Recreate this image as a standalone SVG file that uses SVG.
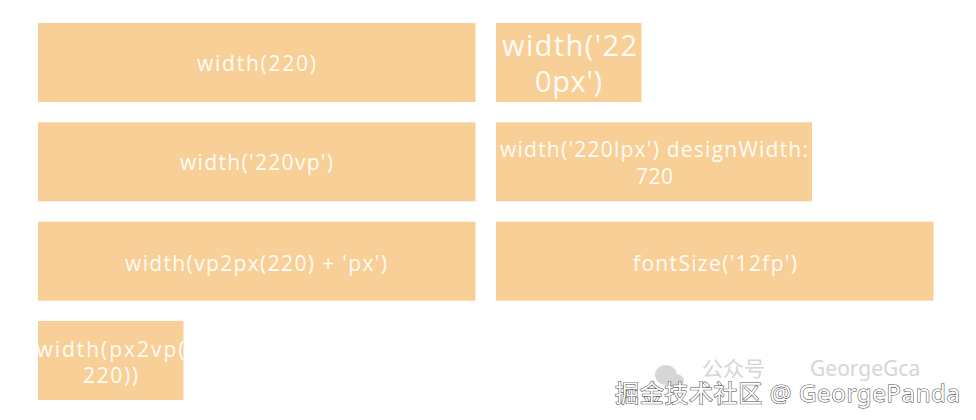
<svg xmlns="http://www.w3.org/2000/svg" width="976" height="420" viewBox="0 0 976 420">
  <defs>
    <style>
      .box { fill: #F9CF98; }
      .lbl { fill: #FFFCF6; font-family: "Open Sans", "Noto Sans", sans-serif; font-size: 21px; text-anchor: middle; }
      .big { font-size: 29px; }
      .wm { fill: #FFFFFF; stroke: #4a4a4a; stroke-width: 1.1px; paint-order: stroke; font-family: "Noto Sans", "Noto Sans CJK SC", sans-serif; font-size: 24px; }
      .wmf { fill: #D6D6D6; font-family: "Noto Sans", "Noto Sans CJK SC", sans-serif; font-size: 21px; }
    </style>
  </defs>
  <rect width="976" height="420" fill="#FFFFFF"/>

  <g id="node-width-220">
    <rect class="box" x="38" y="23" width="437.5" height="79"/>
    <text class="lbl" x="256.5" y="71" textLength="119" lengthAdjust="spacing">width(220)</text>
  </g>
  <g id="node-width-220px">
    <rect class="box" x="496" y="23" width="145.5" height="79"/>
    <text class="lbl big" x="569.5" y="56" textLength="135" lengthAdjust="spacing">width('22</text>
    <text class="lbl big" x="568.5" y="91.5" textLength="67" lengthAdjust="spacing">0px')</text>
  </g>
  <g id="node-width-220vp">
    <rect class="box" x="38" y="122.3" width="437.5" height="79"/>
    <text class="lbl" x="256.5" y="170" textLength="153" lengthAdjust="spacing">width('220vp')</text>
  </g>
  <g id="node-width-220lpx">
    <rect class="box" x="496" y="122.3" width="316" height="79"/>
    <text class="lbl" x="654" y="156.5" textLength="308" lengthAdjust="spacing">width('220lpx') designWidth:</text>
    <text class="lbl" x="654.5" y="183.5" textLength="37" lengthAdjust="spacing">720</text>
  </g>
  <g id="node-vp2px">
    <rect class="box" x="38" y="221.7" width="437.5" height="79"/>
    <text class="lbl" x="256" y="270.5" textLength="262" lengthAdjust="spacing">width(vp2px(220) + 'px')</text>
  </g>
  <g id="node-fontsize">
    <rect class="box" x="496" y="221.7" width="437.5" height="79"/>
    <text class="lbl" x="715" y="270.5" textLength="164" lengthAdjust="spacing">fontSize('12fp')</text>
  </g>
  <g id="node-px2vp">
    <rect class="box" x="38" y="321" width="145.5" height="79"/>
    <text class="lbl" x="110.5" y="357" textLength="148" lengthAdjust="spacing">width(px2vp(</text>
    <text class="lbl" x="110.5" y="383" textLength="55" lengthAdjust="spacing">220))</text>
  </g>

  <g id="connectors"></g>

  <g id="watermark">
    <g fill="#D6D6D6">
      <ellipse cx="666" cy="375" rx="11" ry="10"/>
      <ellipse cx="676" cy="381" rx="8" ry="7"/>
    </g>
    <text class="wmf" x="702" y="376">公众号</text>
    <text class="wmf" x="810" y="376">GeorgeGca</text>
    <text class="wm" x="615" y="402" textLength="345" lengthAdjust="spacing">掘金技术社区 @ GeorgePanda</text>
  </g>
</svg>
